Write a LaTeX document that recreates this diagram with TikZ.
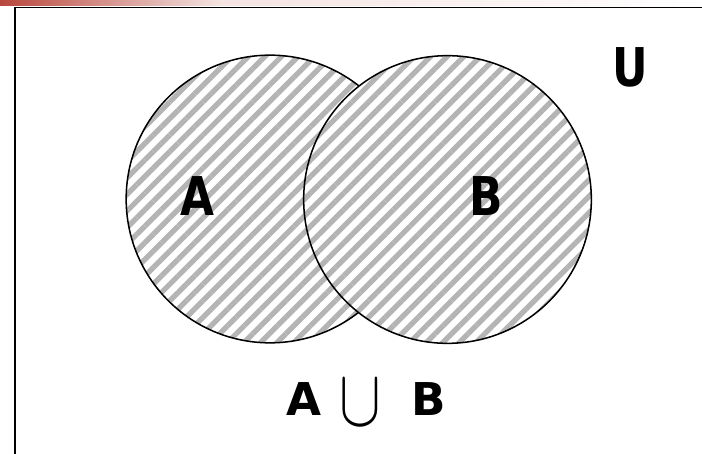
\documentclass[tikz,border=0pt]{standalone}
\usepackage{fontspec}
\newfontfamily\vennfont{DejaVu Sans}[FakeStretch=0.82]
\newfontfamily\unionfont{DejaVu Sans}
\usepackage{xcolor}
\definecolor{hatch}{HTML}{B4B4B4}
\definecolor{slidered}{HTML}{B8473C}
\usetikzlibrary{patterns.meta}

\begin{document}
\begin{tikzpicture}[
  x=0.03cm, y=-0.03cm,
  setcircle/.style={
    circle, draw=black, line width=1.3pt, minimum size=8.63cm,
    preaction={fill=white},
    pattern={Lines[angle=45, distance=10pt, line width=4.5pt]},
    pattern color=hatch
  },
  setlabel/.style={
    font=\vennfont\bfseries\fontsize{45.6}{50}\selectfont,
    anchor=base, inner sep=0pt
  }
]
  \useasboundingbox (0,0) rectangle (702,454);
  % slide edge and frame
  \shade[left color=slidered, right color=slidered!15] (0,0) rectangle (220,6);
  \shade[left color=slidered!15, right color=white] (220,0) rectangle (702,6);
  \draw[line width=1.7pt] (15,454) |- (702,7.5);

  \node[setcircle] (A) at (270,199) {};
  \node[setcircle] (B) at (447.5,199.5) {};

  \node[setlabel] (labA) at (197.5,215) {A};
  \node[setlabel] (labB) at (486,215) {B};
  \node[setlabel] (labU) at (630,87) {U};
  \node[setlabel, anchor=base west, font=\unionfont\bfseries\fontsize{38.6}{42}\selectfont]
    (union) at (286,415)
    {A\hspace{0.55cm}\raisebox{-0.3cm}{\resizebox*{1.25cm}{1.35cm}{$\cup$}}\hspace{0.9cm}B};
\end{tikzpicture}
\end{document}
